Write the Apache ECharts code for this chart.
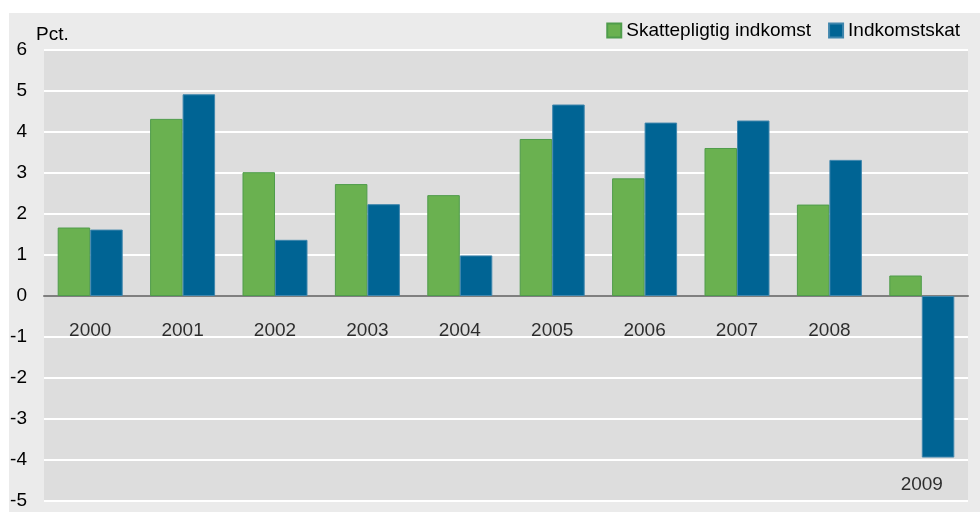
<!DOCTYPE html>
<html>
<head>
<meta charset="utf-8">
<script src="https://cdn.jsdelivr.net/npm/echarts@6/dist/echarts.min.js"></script>
<style>
  html, body { margin: 0; padding: 0; background: #fff; }
  #chart { width: 980px; height: 512px; }
</style>
</head>
<body>
<div id="chart"></div>
<script>
'use strict';
// data
var years = ['2000', '2001', '2002', '2003', '2004', '2005', '2006', '2007', '2008', '2009'];
var skattepligtig = [1.67, 4.32, 3.02, 2.73, 2.46, 3.83, 2.87, 3.61, 2.23, 0.50];
var indkomstskat = [1.62, 4.92, 1.37, 2.24, 0.99, 4.67, 4.23, 4.28, 3.32, -3.94];
var yTicks = [6, 5, 4, 3, 2, 1, 0, -1, -2, -3, -4, -5];

var font = '"Liberation Sans", Arial, sans-serif';
var fs = 19;
var chart = echarts.init(document.getElementById('chart'));

// year labels hang under the zero line, or under the bar when it goes negative
var yearLabels = years.map(function(y, i) {
    var low = Math.min(0, skattepligtig[i], indkomstskat[i]);
    return [y, low < 0 ? low - 0.67 : -0.85];
});

var option = {
    animation: false,
    backgroundColor: '#ffffff',
    textStyle: { fontFamily: font, color: '#000' },
    graphic: [{
        type: 'rect',
        z: -10,
        shape: { x: 9, y: 13, width: 971, height: 499 },
        style: { fill: '#ebebeb' }
    }],
    legend: {
        right: 15,
        top: 16,
        itemWidth: 14,
        itemHeight: 14,
        itemGap: 17,
        icon: 'rect',
        textStyle: { fontFamily: font, fontSize: fs, color: '#000' },
        data: ['Skattepligtig indkomst', 'Indkomstskat']
    },
    grid: {
        left: 44,
        right: 12,
        top: 50,
        bottom: 11,
        containLabel: false,
        outerBoundsMode: 'none',
        show: true,
        backgroundColor: '#dddddd',
        borderWidth: 0
    },
    xAxis: {
        type: 'category',
        data: years,
        axisTick: { show: false },
        axisLabel: { show: false },
        axisLine: { onZero: true, lineStyle: { color: '#7f7f7f', width: 2 } }
    },
    yAxis: {
        type: 'value',
        min: yTicks[yTicks.length - 1],
        max: yTicks[0],
        interval: 1,
        name: 'Pct.',
        nameLocation: 'end',
        nameGap: 6,
        nameTextStyle: { fontFamily: font, fontSize: fs, color: '#000', align: 'left', padding: [0, 0, 0, -8] },
        axisLine: { show: false },
        axisTick: { show: false },
        axisLabel: { margin: 17, fontFamily: font, fontSize: fs, color: '#000' },
        splitLine: { lineStyle: { color: '#ffffff', width: 2 } }
    },
    series: [{
        name: 'Skattepligtig indkomst',
        type: 'bar',
        data: skattepligtig,
        barWidth: 32.5,
        barGap: '0%',
        itemStyle: { color: '#6ab150', borderColor: '#4f9c4b', borderWidth: 1 }
    }, {
        name: 'Indkomstskat',
        type: 'bar',
        data: indkomstskat,
        barWidth: 32.5,
        itemStyle: { color: '#006494', borderColor: '#3f86ad', borderWidth: 1 }
    }, {
        name: 'years',
        type: 'scatter',
        silent: true,
        symbolSize: 0,
        data: yearLabels,
        z: 5,
        label: {
            show: true,
            position: 'inside',
            fontFamily: font,
            fontSize: fs,
            color: '#000',
            formatter: function(p) { return p.value[0]; }
        }
    }]
};

chart.setOption(option);
</script>
</body>
</html>
